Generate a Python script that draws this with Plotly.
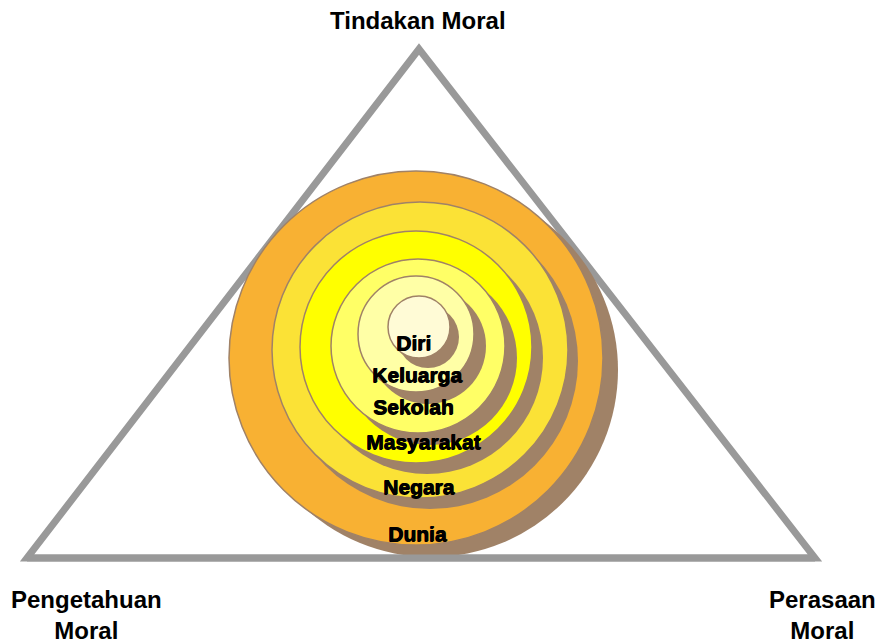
import plotly.graph_objects as go

# ---- data ----
ring_labels = ["Dunia", "Negara", "Masyarakat", "Sekolah", "Keluarga", "Diri"]
ring_cx = [416, 420, 416, 418, 416, 419]
ring_cy = [358, 350, 347, 346, 334, 327]
ring_r = [187, 148, 116, 87, 58, 31]
ring_colors = ["#F8B133", "#FBE236", "#FFFF00", "#FFFF66", "#FFFFA6", "#FFFBD6"]
shadow_dx = [15, 10, 11, 12, 12, 9]
shadow_dy = [12, 11, 11, 12, 12, 10]

label_x = [417, 419, 423, 413, 417, 413]
label_y = [533, 486, 441, 406, 374, 342]

tri_x = [27, 419, 815]
tri_y = [558, 49, 558]

corner_labels = ["Tindakan Moral", "Pengetahuan<br>Moral", "Perasaan<br>Moral"]
corner_x = [418, 86, 822]
corner_y = [20, 615, 615]

W, H = 879, 644
SHADOW = "#A08267"
OUTLINE = "#A08267"
GRAY = "#999999"

fig = go.Figure()
fig.add_trace(go.Scatter(x=[0, W], y=[0, H], mode="markers",
                         marker=dict(opacity=0), hoverinfo="skip", showlegend=False))

shapes = []
# triangle
path = "M {} {} L {} {} L {} {} Z".format(tri_x[0], tri_y[0], tri_x[1], tri_y[1], tri_x[2], tri_y[2])
shapes.append(dict(type="path", path=path, xref="x", yref="y",
                   line=dict(color=GRAY, width=7), fillcolor="rgba(0,0,0,0)"))

for cx, cy, r, col, dx, dy in zip(ring_cx, ring_cy, ring_r, ring_colors, shadow_dx, shadow_dy):
    shapes.append(dict(type="circle", xref="x", yref="y",
                       x0=cx + dx - r, x1=cx + dx + r, y0=cy + dy - r, y1=cy + dy + r,
                       fillcolor=SHADOW, line=dict(width=0)))
    shapes.append(dict(type="circle", xref="x", yref="y",
                       x0=cx - r, x1=cx + r, y0=cy - r, y1=cy + r,
                       fillcolor=col, line=dict(color=OUTLINE, width=1.5)))

# bottom edge drawn on top
shapes.append(dict(type="line", xref="x", yref="y",
                   x0=tri_x[0], y0=tri_y[0], x1=tri_x[2], y1=tri_y[2],
                   line=dict(color=GRAY, width=7)))

annotations = []
for t, x, y in zip(ring_labels, label_x, label_y):
    annotations.append(dict(text="<b>" + t + "</b>", x=x, y=y, xref="x", yref="y",
                            showarrow=False, xanchor="center", yanchor="middle",
                            font=dict(family="Liberation Sans, Arial, sans-serif", size=21,
                                      color="#000000",
                                      shadow="0.8px 0px 0px #000, 0px 0.5px 0px #000")))
for t, x, y in zip(corner_labels, corner_x, corner_y):
    annotations.append(dict(text="<b>" + t + "</b>", x=x, y=y, xref="x", yref="y",
                            showarrow=False, xanchor="center", yanchor="middle",
                            font=dict(family="Liberation Sans, Arial, sans-serif", size=24,
                                      color="#000000")))

fig.update_layout(
    width=W, height=H,
    margin=dict(l=0, r=0, t=0, b=0),
    paper_bgcolor="white", plot_bgcolor="white",
    xaxis=dict(range=[0, W], visible=False, fixedrange=True),
    yaxis=dict(range=[H, 0], visible=False, fixedrange=True),
    shapes=shapes, annotations=annotations, showlegend=False,
)

fig.write_html("out.html", config={"displayModeBar": False},
               post_script="document.body.style.margin='0';document.body.style.overflow='hidden';")
